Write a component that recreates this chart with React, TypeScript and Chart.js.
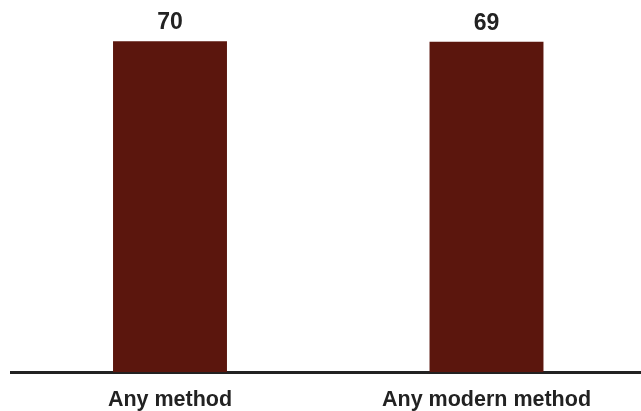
import React, { useEffect, useRef } from "react";
import { Chart, registerables } from "chart.js";

Chart.register(...registerables);

const categories = ["Any method", "Any modern method"];
const values = [69.6, 69.5];
const valueLabels = ["70", "69"];

const barColor = "#5B160D";
const textColor = "#222222";

const valueLabelPlugin = {
  id: "valueLabels",
  afterDatasetsDraw(chart: any) {
    const ctx = chart.ctx;
    const meta = chart.getDatasetMeta(0);
    ctx.save();
    ctx.fillStyle = textColor;
    ctx.font = "bold 23px 'Liberation Sans', Arial, sans-serif";
    ctx.textAlign = "center";
    ctx.textBaseline = "alphabetic";
    meta.data.forEach((bar: any, i: number) => {
      ctx.fillText(valueLabels[i], bar.x, bar.y - 12);
    });
    ctx.restore();
  },
};

export default function App() {
  const ref = useRef<HTMLCanvasElement | null>(null);
  useEffect(() => {
    document.body.style.margin = "0";
    document.body.style.overflow = "hidden";
    if (!ref.current) return;
    const chart = new Chart(ref.current, {
      type: "bar",
      data: {
        labels: categories,
        datasets: [
          {
            data: values,
            backgroundColor: barColor,
            borderWidth: 0,
            categoryPercentage: 1,
            barPercentage: 0.36,
          },
        ],
      },
      options: {
        animation: false,
        responsive: true,
        maintainAspectRatio: false,
        layout: { padding: { left: 11.75, right: 15.25, top: 1.2, bottom: 0 } },
        plugins: { legend: { display: false }, tooltip: { enabled: false } },
        scales: {
          y: { display: false, min: 0, max: 78 },
          x: {
            grid: { display: false, drawTicks: false },
            border: { display: true, color: "#222222", width: 3 },
            ticks: {
              color: textColor,
              padding: 15,
              font: { size: 21.5, weight: "bold", family: "'Liberation Sans', Arial, sans-serif" },
            },
          },
        },
      },
      plugins: [valueLabelPlugin],
    });
    return () => chart.destroy();
  }, []);
  return (
    <div style={{ position: "fixed", left: 0, top: 0, width: 641, height: 411, overflow: "hidden", background: "#fff" }}>
      <div style={{ position: "absolute", left: 0, top: 0, width: 660, height: 428 }}>
        <canvas ref={ref} />
      </div>
    </div>
  );
}
